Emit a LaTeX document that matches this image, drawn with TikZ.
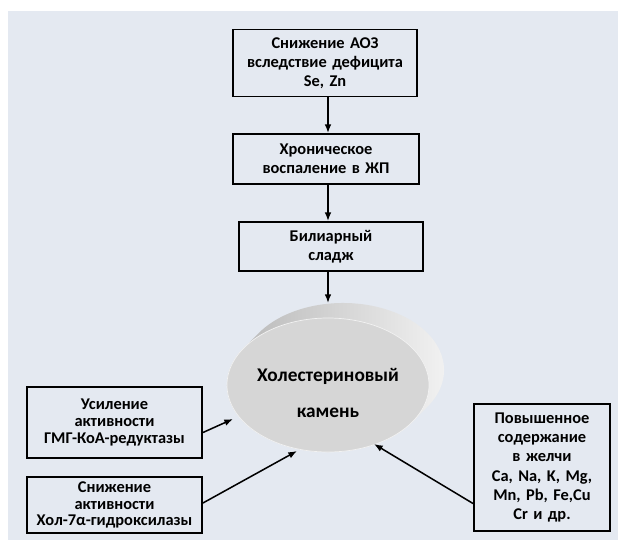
\documentclass[tikz,border=0pt]{standalone}
\usepackage{fontspec}
\setmainfont{Carlito}
\usetikzlibrary{arrows.meta, shapes.geometric}
\definecolor{bgblue}{RGB}{228,233,241}
\definecolor{stonegray}{RGB}{214,214,214}

\tikzset{
  cause/.style={draw=black, line width=1.6pt, align=center, inner sep=2pt,
                font=\fontsize{14}{16.4}\selectfont\bfseries},
  tight/.style={font=\fontsize{14}{14.4}\selectfont\bfseries},
  arr/.style={-{Latex[length=2.6mm,width=2mm]}, line width=1.3pt},
}

\begin{document}
\begin{tikzpicture}[x=0.03cm, y=-0.03cm]
\useasboundingbox (0,0) rectangle (618,554);
\fill[bgblue] (8,11) rectangle (618,540);

% --- main chain ---
\node[cause, minimum width=5.52cm, minimum height=2.01cm, text width=5.3cm]
     (deficit) at (325,63) {Снижение АОЗ\\вследствие дефицита\\Se, Zn};
\node[cause, minimum width=5.58cm, minimum height=1.5cm, text width=5.3cm]
     (inflam) at (326,159) {Хроническое\\воспаление в ЖП};
\node[cause, minimum width=5.52cm, minimum height=1.47cm, text width=5.3cm]
     (sludge) at (331,246.5) {Билиарный\\сладж};

% --- stone: rim (hull of the back and front ellipses), then the front face ---
\shade[left color=black!30, middle color=black!28, right color=black!4]
      (258.9,332.9) arc[start angle=213.6, end angle=393.6, x radius=101, y radius=67]
      -- (412.1,422.1) arc[start angle=33.6, end angle=213.6, x radius=101, y radius=67]
      -- cycle;
\node[ellipse, fill=stonegray, draw=black!5, line width=0.6pt,
      minimum width=6.06cm, minimum height=4.02cm, inner sep=0pt]
     (stone) at (328,385) {};
\node[font=\fontsize{16.5}{30}\selectfont\bfseries, align=center]
     (stonelabel) at (328,393) {Холестериновый\\камень};

% --- side factors ---
\node[cause, tight, minimum width=5.25cm, minimum height=2.13cm, text width=5.1cm]
     (hmg) at (114.5,422.5) {Усиление\\активности\\ГМГ-КоА-редуктазы};
\node[cause, tight, minimum width=5.25cm, minimum height=1.68cm, text width=5.1cm]
     (hol) at (114.5,505) {Снижение\\активности\\Хол-7α-гидроксилазы};
\node[cause, minimum width=4.08cm, minimum height=3.81cm, text width=3.9cm]
     (metals) at (542,467.5) {Повышенное\\содержание\\в желчи\\Ca, Na, K, Mg,\\Mn, Pb, Fe,Cu\\Cr и др.};

% entry points on the stone
\coordinate (axis) at (328,0);
\coordinate (rimtop) at (328,303);
\coordinate (inhmg) at (233,419);
\coordinate (inhol) at (297,451);
\coordinate (inmet) at (374,444);

% --- arrows ---
\draw[arr] (deficit.south -| axis) -- (inflam.north -| axis);
\draw[arr] (inflam.south -| axis) -- (sludge.north -| axis);
\draw[arr] (sludge.south -| axis) -- (rimtop);
\draw[arr] (hmg.east) ++(0,10) -- (inhmg);
\draw[arr] (hol.east) ++(0,-2) -- (inhol);
\draw[arr] (metals.west) ++(0,36) -- (inmet);

\end{tikzpicture}
\end{document}
